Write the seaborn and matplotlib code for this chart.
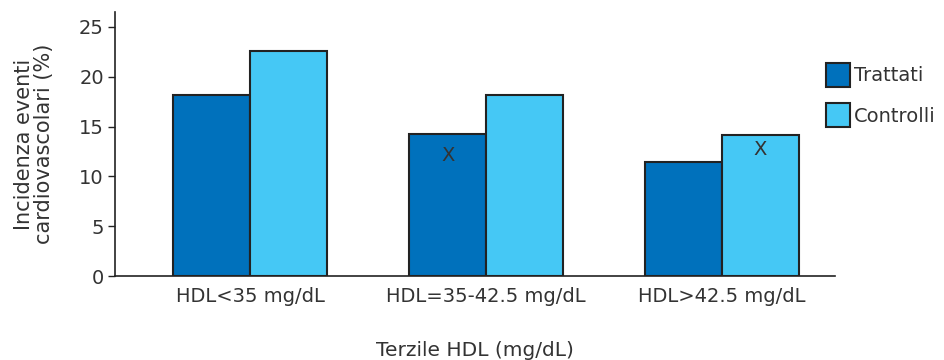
import matplotlib
matplotlib.use("Agg")
import matplotlib.pyplot as plt
import seaborn as sns
import pandas as pd

categories = ["HDL<35 mg/dL", "HDL=35-42.5 mg/dL", "HDL>42.5 mg/dL"]
series_names = ["Trattati", "Controlli"]
trattati = [18.2, 14.3, 11.4]
controlli = [22.6, 18.2, 14.2]
marked = [("Trattati", 1), ("Controlli", 2)]  # bars carrying an "X"
mark_offsets_pt = [-16, -10.6]  # vertical placement of each "X" below bar top
y_ticks = [0, 5, 10, 15, 20, 25]
x_title = "Terzile HDL (mg/dL)"
y_title = "Incidenza eventi\ncardiovascolari (%)"

colors = {"Trattati": "#0071BC", "Controlli": "#45C8F5"}
text_color = "#333333"

df = pd.DataFrame({
    "cat": categories * 2,
    "series": ["Trattati"] * 3 + ["Controlli"] * 3,
    "value": trattati + controlli,
})

sns.set_style("ticks")
plt.rcParams["font.family"] = ["DejaVu Sans"]
plt.rcParams["text.color"] = text_color
plt.rcParams["axes.labelcolor"] = text_color
plt.rcParams["xtick.color"] = text_color
plt.rcParams["ytick.color"] = text_color

fig = plt.figure(figsize=(9.45, 3.6), dpi=100)
ax = fig.add_axes([115 / 945, 1 - 276 / 360, (835 - 115) / 945, (276 - 12) / 360])

sns.barplot(data=df, x="cat", y="value", hue="series", order=categories,
            hue_order=series_names, palette=colors, saturation=1,
            width=0.65, gap=0, edgecolor="#222222", linewidth=1.5,
            ax=ax, legend=True)

ax.set_xlim(-0.572, 2.479)
ax.set_ylim(0, 26.5)
ax.set_yticks(y_ticks)
ax.tick_params(axis="y", labelsize=14, length=5, width=1.0, pad=3,
               color="#222222")
ax.tick_params(axis="x", labelsize=14, length=0, pad=8)
ax.set_xlabel(x_title, fontsize=14.5, labelpad=25)
ax.set_ylabel(y_title, fontsize=15, labelpad=18, linespacing=1.0)
sns.despine(ax=ax)
for s in ["left", "bottom"]:
    ax.spines[s].set_color("#222222")
    ax.spines[s].set_linewidth(1.2)

# "X" marks on specific bars
for (series, idx), off in zip(marked, mark_offsets_pt):
    container = ax.containers[series_names.index(series)]
    p = container.patches[idx]
    ax.annotate("X", xy=(p.get_x() + p.get_width() / 2, p.get_height()),
                xytext=(0, off), textcoords="offset points",
                ha="center", va="center", fontsize=14, color=text_color)

ax.legend(loc="upper left", bbox_to_anchor=(826 / 945, 1 - 63 / 360),
          bbox_transform=fig.transFigure, frameon=False, fontsize=14,
          handlelength=1.25, handleheight=1.5, handletextpad=0.2,
          labelspacing=0.85, borderpad=0, borderaxespad=0)

fig.savefig("out.png", dpi=100)
